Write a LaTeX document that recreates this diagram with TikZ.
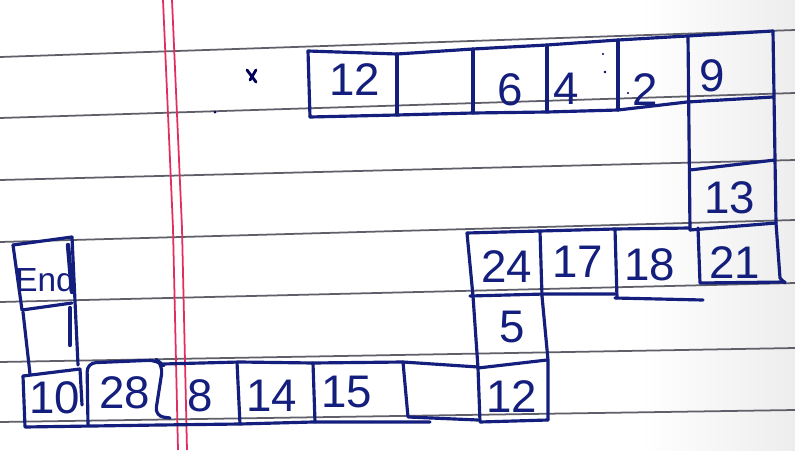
\documentclass[tikz,border=0pt]{standalone}
\usepackage{fontspec}
\setmainfont{Liberation Sans}
\definecolor{ink}{RGB}{20,30,125}
\definecolor{ruleline}{RGB}{95,95,105}
\definecolor{marginred}{RGB}{225,45,95}
\begin{document}
\begin{tikzpicture}[x=0.02cm,y=-0.02cm,
  inkline/.style={draw=ink, line width=1.8pt, line join=round, line cap=round},
  ruled/.style={draw=ruleline, line width=1pt},
  margin/.style={draw=marginred, line width=1pt},
  num/.style={text=ink, font=\fontsize{26}{26}\selectfont, inner sep=0pt},
  speck/.style={fill=black!60!blue}]
\useasboundingbox (0,0) rectangle (795,450);
\fill[white] (0,0) rectangle (795,450);
\shade[left color=white, right color=black!7] (640,0) rectangle (795,450);
% ruled lines
\foreach \a/\b in {57/30,118/93,180/160,242/220,302/283,362/348,422/410}
  \draw[ruled] (0,\a) -- (795,\b);
% margin lines
\draw[margin] (163,0) -- (173,228) -- (178,450);
\draw[margin] (172,0) -- (182,228) -- (187,450);
% marks
\draw[draw=black!65!blue, line width=1.6pt, line cap=round] (247,70) -- (256,82) (256,70) -- (250,80);
\fill[speck] (215,112) circle (1.5);
\fill[speck] (603,54) circle (1.2);
\fill[speck] (605,72) circle (1.4);
\fill[speck] (628,93) circle (1.2);

% ---------- top row ----------
\draw[inkline] (308,51) -- (397,54) -- (473,49) -- (547,45) -- (618,40) -- (687,36) -- (773,31);
\draw[inkline] (310,117) -- (397,115) -- (473,113) -- (547,112) -- (618,110) -- (687,102) -- (773,97);
\draw[inkline] (308,51) -- (310,117);
\draw[inkline] (397,54) -- (397,115);
\draw[inkline] (473,49) -- (473,113);
\draw[inkline] (547,45) -- (547,112);
\draw[inkline] (618,40) -- (618,110);
% right column
\draw[inkline] (688,36) -- (690,230);
\draw[inkline] (773,31) -- (776,223) -- (780,278) -- (785,283);
\draw[inkline] (690,170) -- (775,160);
\draw[inkline] (690,230) -- (776,223);
\draw[inkline] (698,228) -- (700,283) -- (785,282);
% second row
\draw[inkline] (467,233) -- (540,231) -- (615,229) -- (690,228);
\draw[inkline] (470,296) -- (545,294) -- (615,294);
\draw[inkline] (615,298) -- (703,300);
\draw[inkline] (540,231) -- (542,296);
\draw[inkline] (615,229) -- (617,298);
% left column
\draw[inkline] (467,233) -- (473,296) -- (478,368) -- (480,422) -- (548,420);
\draw[inkline] (542,296) -- (548,360) -- (548,420);
\draw[inkline] (478,368) -- (547,360);
% bottom row
\draw[inkline] (23,376) -- (80,369);
\draw[inkline, rounded corners=5pt] (88,425) -- (87,363) -- (157,360) -- (163,365) -- (155,416) -- (170,418);
\draw[inkline] (163,364) -- (240,362) -- (313,363) -- (403,362) -- (478,367);
\draw[inkline] (23,376) -- (25,427) -- (160,425) -- (240,424) -- (313,422) -- (430,422);
\draw[inkline] (80,369) -- (82,405);
\draw[inkline] (237,362) -- (240,424);
\draw[inkline] (313,363) -- (315,422);
\draw[inkline] (403,362) -- (408,417) -- (478,420);
% End column
\draw[inkline] (13,245) -- (72,237);
\draw[inkline] (13,245) -- (22,310);
\draw[inkline] (23,312) -- (30,374);
\draw[inkline] (72,237) -- (78,365);
\draw[inkline] (22,310) -- (72,303);
\draw[inkline, line width=2.5pt] (68,245) -- (72,292);
\draw[inkline, line width=2.5pt] (70,308) -- (70,345);

% ---------- texts ----------
\node[num] (t12a) at (355,80) {12};
\node[num] (t6) at (510,90) {6};
\node[num] (t4) at (566,89) {4};
\node[num] (t2) at (645,90) {2};
\node[num] (t9) at (712,76) {9};
\node[num] (t13) at (730,198) {13};
\node[num] (t24) at (507,267) {24};
\node[num] (t17) at (578,262) {17};
\node[num] (t18) at (650,265) {18};
\node[num] (t21) at (735,263) {21};
\node[num] (t5) at (512,327) {5};
\node[num] (t12b) at (512,397) {12};
\node[num] (t15) at (347,392) {15};
\node[num] (t14) at (272,396) {14};
\node[num] (t8) at (200,396) {8};
\node[num] (t28) at (125,393) {28};
\node[num] (t10) at (55,398) {10};
\node[num, font=\fontsize{19}{19}\selectfont] (tEnd) at (45,280) {End};
\end{tikzpicture}
\end{document}
